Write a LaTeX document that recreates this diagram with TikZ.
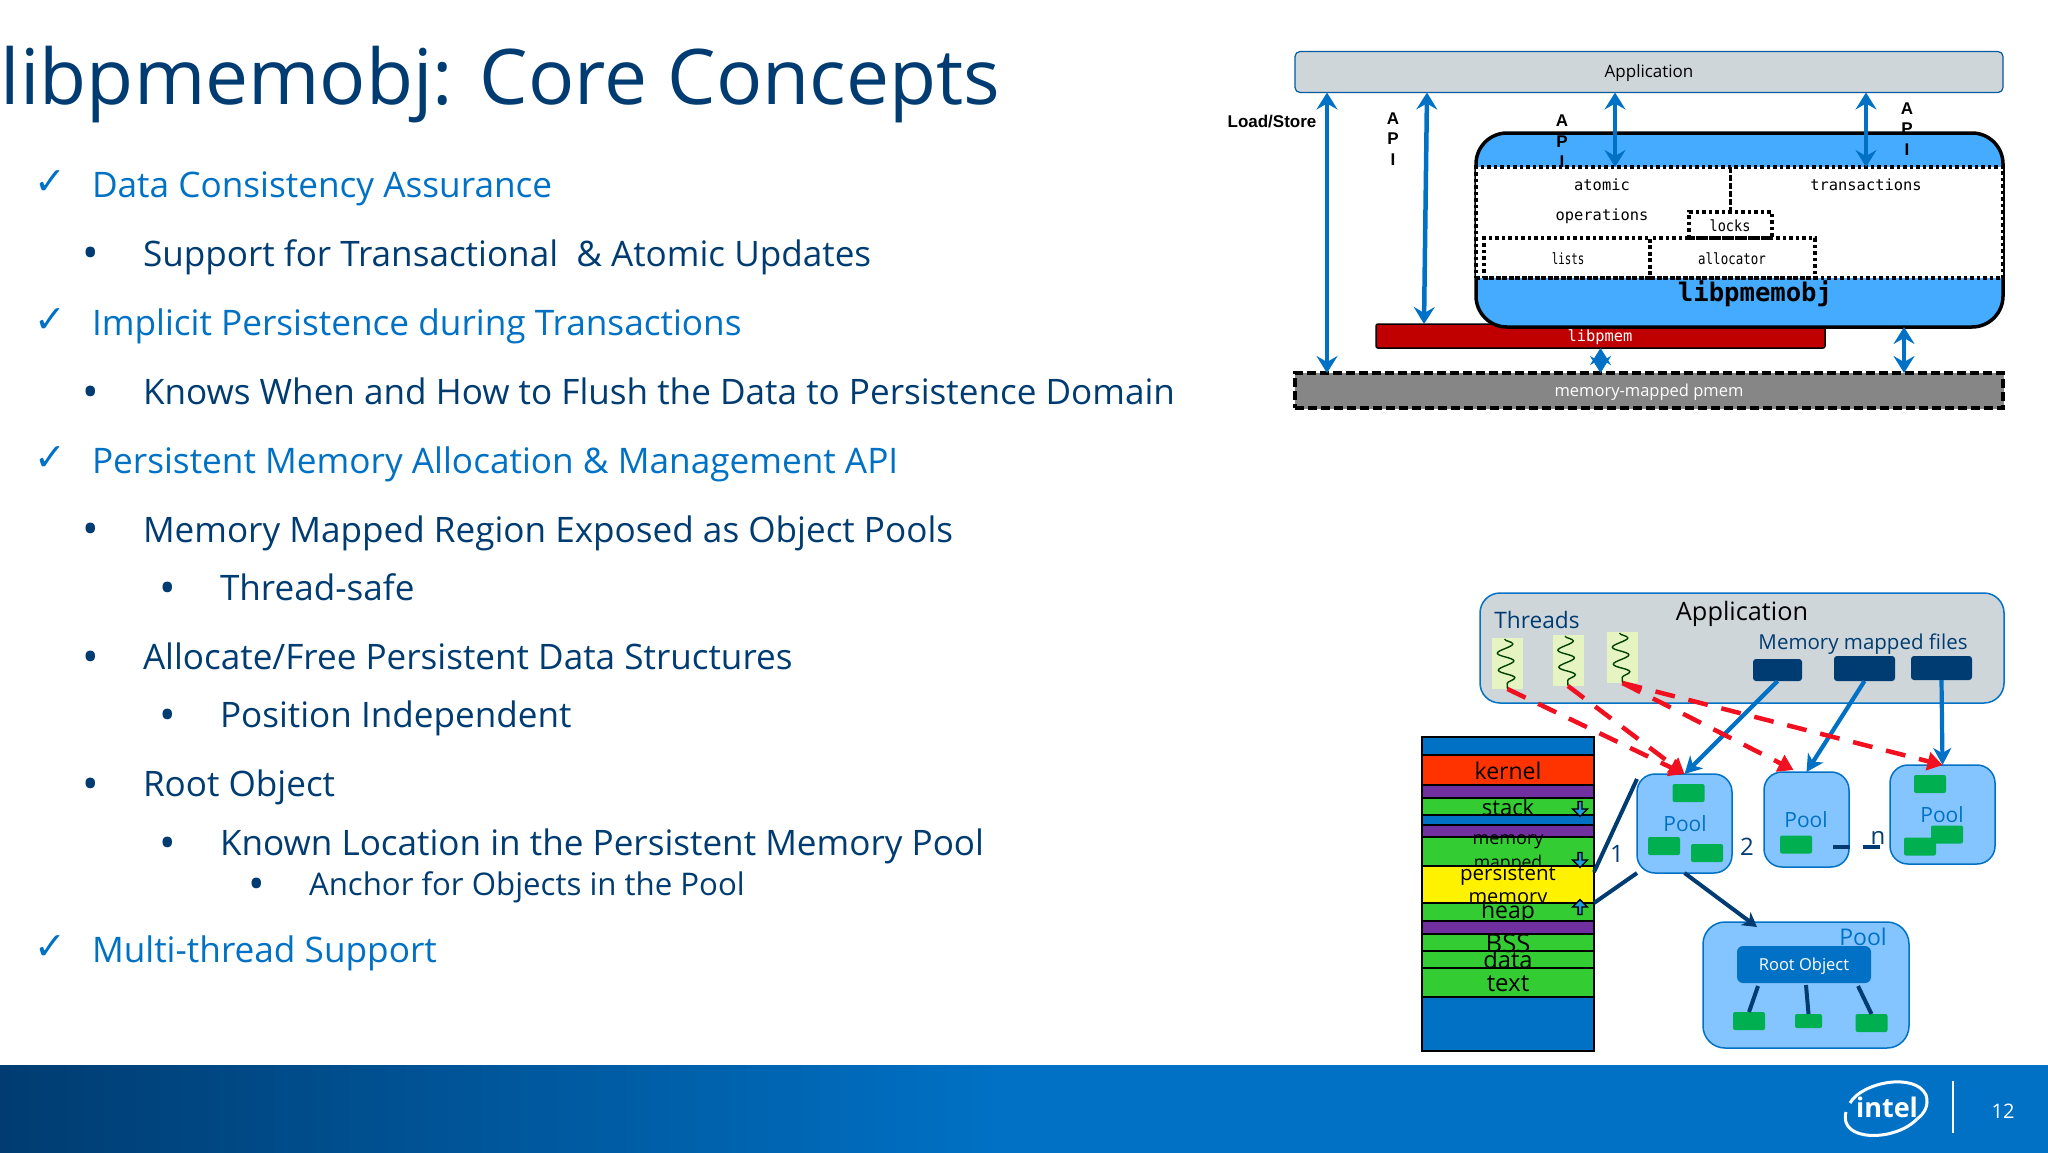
\documentclass[tikz,border=0pt]{standalone}
\usepackage{fontspec}
\setmainfont{Open Sans}
\setmonofont{DejaVu Sans Mono}
\newfontfamily\arialfont{Liberation Sans}
\newfontfamily\checkfont{DejaVu Sans}
\usetikzlibrary{arrows.meta,decorations.pathmorphing,shapes.arrows}
\definecolor{inteldark}{HTML}{003C71}
\definecolor{intelblue}{HTML}{0071C5}
\definecolor{appgray}{HTML}{CFD6DA}
\definecolor{objblue}{HTML}{45ABFF}
\definecolor{poolblue}{HTML}{85C5FF}
\definecolor{poolgreen}{HTML}{00B050}
\definecolor{threadpale}{HTML}{E6F4C2}
\definecolor{libred}{HTML}{C00000}
\definecolor{pmemgray}{HTML}{868686}
\definecolor{rowgreen}{HTML}{33CC33}
\definecolor{rowpurple}{HTML}{7030A0}
\definecolor{rowred}{HTML}{FF3300}
\definecolor{arrowcyan}{HTML}{1E9FE0}
\definecolor{arrowred}{HTML}{F01020}
\begin{document}
\begin{tikzpicture}
  [x=1pt, y=-1pt]
  \tikzstyle{plain} = [inner sep=0pt, outer sep=0pt];
  \tikzstyle{title_text} = [plain, anchor=base west, text=inteldark, font=\fontsize{76.8pt}{84pt}\selectfont];
  \tikzstyle{first_text}  = [plain, anchor=base west, text=intelblue, font=\fontsize{35.2pt}{40pt}\selectfont];
  \tikzstyle{second_text} = [plain, anchor=base west, text=inteldark, font=\fontsize{35.1pt}{40pt}\selectfont];
  \tikzstyle{small_text}  = [plain, anchor=base west, text=inteldark, font=\fontsize{31.2pt}{36pt}\selectfont];
  \tikzstyle{check_mark}  = [plain, text=intelblue, font=\checkfont\fontsize{38pt}{42pt}\selectfont];
  \tikzstyle{dot_mark}    = [plain, text=inteldark, font=\fontsize{44pt}{48pt}\selectfont];
  \tikzstyle{bold_text} = [plain, font=\arialfont\bfseries\fontsize{17pt}{20pt}\selectfont];
  \tikzstyle{mono_text} = [plain, font=\ttfamily\fontsize{15.4pt}{18pt}\selectfont];
  \tikzstyle{api_arrow} = [draw=intelblue, line width=4.5pt, {Stealth[length=17pt, width=21pt, inset=6pt]}-{Stealth[length=17pt, width=21pt, inset=6pt]}];
  \tikzstyle{dotted_box} = [plain, draw=black, line width=3.5pt, dash pattern=on 3.5pt off 3pt];
  \tikzstyle{pool_box} = [plain, draw=intelblue, line width=1.5pt, fill=poolblue, rounded corners=18pt];
  \tikzstyle{pool_text} = [plain, text=intelblue, font=\fontsize{21pt}{24pt}\selectfont];
  \tikzstyle{green_box} = [plain, fill=poolgreen, rounded corners=2pt, minimum width=32pt, minimum height=18pt];
  \tikzstyle{file_box} = [plain, fill=inteldark, rounded corners=3pt];
  \tikzstyle{thread_box} = [plain, fill=threadpale, minimum width=31pt, minimum height=51pt];
  \tikzstyle{squiggle} = [draw=black!75!green, line width=1.4pt, decorate, decoration={snake, amplitude=8pt, segment length=17pt}];
  \tikzstyle{red_arrow} = [draw=arrowred, line width=4.5pt, dash pattern=on 20pt off 14pt, -{Triangle[length=15pt, width=18pt]}];
  \tikzstyle{file_arrow} = [draw=intelblue, line width=4.2pt, -{Stealth[length=17pt, width=18pt, inset=5pt]}];
  \tikzstyle{dark_line} = [draw=inteldark, line width=4pt];
  \tikzstyle{row_box} = [plain, draw=black, line width=2pt, minimum width=172pt];
  \tikzstyle{blue_row} = [row_box, fill=intelblue];
  \tikzstyle{purple_row} = [row_box, fill=rowpurple];
  \tikzstyle{green_row} = [row_box, fill=rowgreen];
  \tikzstyle{row_text} = [plain, align=center, font=\fontsize{23pt}{26pt}\selectfont];
  \tikzstyle{mini_arrow} = [plain, single arrow, draw=black, fill=arrowcyan, line width=1.4pt, minimum height=15pt, minimum width=15pt, single arrow head extend=2pt, shape border rotate=270];

  \useasboundingbox (0, 0) rectangle (2048, 1152);

  % footer
  \fill[intelblue] (1000, 1065) rectangle (2050, 1155);
  \shade[left color=inteldark, right color=intelblue] (0, 1065) rectangle (1000, 1155);
  \draw[white, line width=3pt] (1850, 1103) .. controls (1862, 1082) and (1915, 1072) .. (1926, 1095) .. controls (1929, 1105) and (1925, 1113) .. (1917, 1119);
  \draw[white, line width=3pt] (1917, 1119) .. controls (1895, 1142) and (1838, 1142) .. (1846, 1112);
  \node[plain, text=white, font=\bfseries\fontsize{27pt}{30pt}\selectfont] (intel_logo) at (1887, 1107) {intel};
  \draw[white, line width=1.2pt] (1953, 1081) -- (1953, 1133);
  \node[plain, text=white, font=\fontsize{20pt}{24pt}\selectfont] (page_number) at (2003, 1111) {12};

  % left text
  \node[title_text] (title) at (1, 104) {libpmemobj: Core Concepts};

  \node[check_mark] (check_a) at (50, 183) {✓};
  \node[first_text] (line_a) at (92, 197) {Data Consistency Assurance};
  \node[dot_mark] (dot_b) at (91, 258) {•};
  \node[second_text] (line_b) at (143, 266) {Support for Transactional~ \& Atomic Updates};
  \node[check_mark] (check_c) at (50, 321) {✓};
  \node[first_text] (line_c) at (92, 335) {Implicit Persistence during Transactions};
  \node[dot_mark] (dot_d) at (91, 397) {•};
  \node[second_text] (line_d) at (143, 404) {Knows When and How to Flush the Data to Persistence Domain};
  \node[check_mark] (check_e) at (50, 459) {✓};
  \node[first_text] (line_e) at (92, 473) {Persistent Memory Allocation \& Management API};
  \node[dot_mark] (dot_f) at (91, 534) {•};
  \node[second_text] (line_f) at (143, 542) {Memory Mapped Region Exposed as Object Pools};
  \node[dot_mark] (dot_g) at (168, 593) {•};
  \node[second_text] (line_g) at (220, 600) {Thread-safe};
  \node[dot_mark] (dot_h) at (91, 662) {•};
  \node[second_text] (line_h) at (143, 669) {Allocate/Free Persistent Data Structures};
  \node[dot_mark] (dot_i) at (168, 720) {•};
  \node[second_text] (line_i) at (220, 727) {Position Independent};
  \node[dot_mark] (dot_j) at (91, 789) {•};
  \node[second_text] (line_j) at (143, 796) {Root Object};
  \node[dot_mark] (dot_k) at (168, 848) {•};
  \node[second_text] (line_k) at (220, 855) {Known Location in the Persistent Memory Pool};
  \node[dot_mark] (dot_l) at (257, 889) {•};
  \node[small_text] (line_l) at (309, 895) {Anchor for Objects in the Pool};
  \node[check_mark] (check_m) at (50, 948) {✓};
  \node[first_text] (line_m) at (92, 962) {Multi-thread Support};

  % upper diagram
  \node[plain, draw=intelblue!80!black, line width=1.2pt, fill=appgray, rounded corners=5pt, minimum width=708pt, minimum height=41pt] (app_box) at (1649, 72) {};
  \node[plain, font=\fontsize{17pt}{20pt}\selectfont] (app_label) at (1649, 73) {Application};

  \node[plain, draw=black, line width=1.5pt, fill=libred, rounded corners=2pt, minimum width=449pt, minimum height=24pt] (libpmem) at (1600.5, 336) {};
  \node[plain, draw=black, line width=3.5pt, fill=objblue, rounded corners=31pt, minimum width=527pt, minimum height=194pt] (obj_box) at (1739.5, 230) {};
  \node[dotted_box, fill=white, minimum width=527pt, minimum height=111pt] (white_area) at (1739.5, 222.5) {};
  \node[mono_text, text=white] (libpmem_label) at (1600, 337) {libpmem};
  \node[plain, font=\ttfamily\bfseries\fontsize{25.6pt}{28pt}\selectfont] (obj_label) at (1755, 294) {libpmemobj};

  \node[mono_text] (atomic_label) at (1602, 185) {atomic};
  \node[mono_text] (operations_label) at (1602, 216) {operations};
  \node[mono_text] (transactions_label) at (1866, 185) {transactions};
  \node[dotted_box, fill=white, minimum width=83pt, minimum height=26pt] (locks_box) at (1730.5, 225) {};
  \node[mono_text, xscale=0.88] at (1730, 226) (locks_label) {locks};
  \node[dotted_box, minimum width=166pt, minimum height=40pt] (lists_box) at (1567, 258) {};
  \node[dotted_box, minimum width=165pt, minimum height=40pt] (allocator_box) at (1732.5, 258) {};
  \node[mono_text, xscale=0.7] (lists_label) at (1568, 259) {lists};
  \node[mono_text, xscale=0.81] (allocator_label) at (1732, 259) {allocator};
  \draw[black, line width=3.5pt, dash pattern=on 6pt off 2pt] (white_area.north -| locks_box) -- (locks_box.north);

  \node[plain, draw=pmemgray, fill=pmemgray, minimum width=708pt, minimum height=35pt] (pmem_fill) at (1649, 390.5) {};
  \node[plain, draw=black, line width=3.5pt, dash pattern=on 9pt off 4pt, minimum width=708pt, minimum height=35pt] (pmem_box) at (1649, 390.5) {};
  \node[plain, text=white, font=\fontsize{16.5pt}{20pt}\selectfont] (pmem_label) at (1649, 392) {memory-mapped pmem};

  \node[bold_text] (load_label) at (1272, 122) {Load/Store};
  \node[bold_text] (api_a1) at (1393, 119) {A};
  \node[bold_text] (api_a2) at (1393, 139) {P};
  \node[bold_text] (api_a3) at (1393, 160) {I};
  \node[bold_text] (api_b1) at (1562, 121) {A};
  \node[bold_text] (api_b2) at (1562, 142) {P};
  \node[bold_text] (api_b3) at (1562, 162) {I};
  \node[bold_text] (api_c1) at (1907, 109) {A};
  \node[bold_text] (api_c2) at (1907, 129) {P};
  \node[bold_text] (api_c3) at (1907, 150) {I};

  \draw[api_arrow] ([xshift=-322pt]app_box.south) -- ([xshift=-322pt]pmem_box.north);
  \draw[api_arrow] ([xshift=-222pt]app_box.south) -- ([xshift=-176.5pt]libpmem.north);
  \draw[api_arrow] ([xshift=-34pt]app_box.south) -- ([xshift=-124.5pt]white_area.north);
  \draw[api_arrow] ([xshift=217pt]app_box.south) -- ([xshift=126.5pt]white_area.north);
  \draw[api_arrow] (libpmem.south) -- (libpmem.south |- pmem_box.north);
  \draw[api_arrow] ([xshift=164.5pt]obj_box.south) -- ([xshift=255pt]pmem_box.north);

  % stack
  \node[blue_row, minimum height=18pt] (row_top) at (1508, 746) {};
  \node[row_box, fill=rowred, minimum height=30pt] (row_kernel) at (1508, 770) {};
  \node[row_text] (kernel_label) at (1508, 771) {kernel};
  \node[purple_row, minimum height=13pt] (row_p1) at (1508, 791.5) {};
  \node[green_row, minimum height=17pt] (row_stack) at (1508, 806.5) {};
  \node[row_text, font=\fontsize{22pt}{26pt}\selectfont] (stack_label) at (1508, 807) {stack};
  \node[blue_row, minimum height=10pt] (row_gap) at (1508, 820) {};
  \node[purple_row, minimum height=12pt] (row_p2) at (1508, 831) {};
  \node[green_row, minimum height=29pt] (row_mapped) at (1508, 851.5) {};
  \node[row_text, font=\fontsize{18pt}{22pt}\selectfont] (memory_label) at (1508, 842) {memory};
  \node[row_text, font=\fontsize{17.6pt}{22pt}\selectfont] (mapped_label) at (1508, 864) {mapped};
  \node[row_box, fill=yellow, minimum height=37pt] (row_persistent) at (1508, 884.5) {};
  \node[row_text, font=\fontsize{20.5pt}{24pt}\selectfont] (persistent_label) at (1508, 875) {persistent};
  \node[row_text, font=\fontsize{20pt}{24pt}\selectfont] (persistent_memory_label) at (1508, 900) {memory};
  \node[green_row, minimum height=18pt] (row_heap) at (1508, 912) {};
  \node[row_text] (heap_label) at (1508, 913) {heap};
  \node[purple_row, minimum height=13pt] (row_p3) at (1508, 927.5) {};
  \node[green_row, minimum height=17pt] (row_bss) at (1508, 942.5) {};
  \node[green_row, minimum height=17pt] (row_data) at (1508, 959.5) {};
  \node[green_row, minimum height=29pt] (row_text) at (1508, 982.5) {};
  \node[blue_row, minimum height=54pt] (row_bottom) at (1508, 1024) {};
  \node[row_text, font=\fontsize{25.6pt}{28pt}\selectfont] (bss_label) at (1508, 943) {BSS};
  \node[row_text, font=\fontsize{23.7pt}{28pt}\selectfont] (data_label) at (1508, 960) {data};
  \node[row_text, font=\fontsize{24pt}{28pt}\selectfont] (text_label) at (1508, 984) {text};
  \node[mini_arrow] (mini_stack) at (1580, 808) {};
  \node[mini_arrow] (mini_mapped) at (1580, 859) {};
  \node[mini_arrow, shape border rotate=90] (mini_heap) at (1580, 908) {};

  % lower diagram
  \node[plain, draw=intelblue, line width=1.5pt, fill=appgray, rounded corners=20pt, minimum width=524pt, minimum height=110pt] (proc_box) at (1742, 648) {};
  \node[plain, text=inteldark, font=\fontsize{22.7pt}{26pt}\selectfont] (threads_label) at (1537, 620) {Threads};
  \node[plain, font=\fontsize{25.3pt}{28pt}\selectfont] (proc_label) at (1742, 614) {Application};
  \node[plain, text=inteldark, font=\fontsize{20.5pt}{24pt}\selectfont] (files_label) at (1863, 644) {Memory mapped files};

  \node[thread_box] (thread_one) at (1507.5, 663.5) {};
  \node[thread_box] (thread_two) at (1568, 660.5) {};
  \node[thread_box] (thread_three) at (1622.5, 657.5) {};
  \draw[squiggle] ([xshift=-3pt, yshift=-1pt]thread_one.north) -- (thread_one.south);
  \draw[squiggle] ([xshift=-3pt, yshift=-1pt]thread_two.north) -- (thread_two.south);
  \draw[squiggle] ([xshift=-3pt, yshift=-1pt]thread_three.north) -- (thread_three.south);

  \node[file_box, minimum width=49pt, minimum height=22pt] (file_one) at (1777.5, 670) {};
  \node[file_box, minimum width=61pt, minimum height=25pt] (file_two) at (1864.5, 668.5) {};
  \node[file_box, minimum width=61pt, minimum height=24pt] (file_three) at (1941.5, 668) {};

  \node[pool_box, minimum width=95pt, minimum height=99pt] (pool_one) at (1684.5, 823.5) {};
  \node[pool_box, minimum width=85pt, minimum height=95pt] (pool_two) at (1806.5, 819.5) {};
  \node[pool_box, minimum width=105pt, minimum height=99pt] (pool_three) at (1942.5, 814.5) {};
  \node[pool_box, rounded corners=22pt, minimum width=206pt, minimum height=126pt] (root_pool) at (1806, 985) {};

  \node[pool_text] (pool_one_label) at (1685, 824) {Pool};
  \node[pool_text] (pool_two_label) at (1806, 820) {Pool};
  \node[pool_text] (pool_three_label) at (1942, 815) {Pool};
  \node[pool_text, font=\fontsize{23pt}{26pt}\selectfont] (root_pool_label) at (1863, 937) {Pool};

  \node[green_box] (green_a) at (1688.5, 793) {};
  \node[green_box] (green_b) at (1664, 846) {};
  \node[green_box] (green_c) at (1707, 853) {};
  \node[green_box] (green_d) at (1796, 844.5) {};
  \node[green_box] (green_e) at (1930, 784) {};
  \node[green_box] (green_f) at (1947, 834.5) {};
  \node[green_box] (green_g) at (1920, 846.5) {};

  \node[plain, fill=intelblue, rounded corners=6pt, minimum width=134pt, minimum height=37pt] (root_object) at (1804, 964.5) {};
  \node[plain, text=white, font=\fontsize{16.5pt}{20pt}\selectfont] (root_object_label) at (1804, 966) {Root Object};
  \node[green_box] (leaf_a) at (1749, 1021) {};
  \node[green_box, minimum width=27pt, minimum height=14pt] (leaf_b) at (1808.5, 1021) {};
  \node[green_box] (leaf_c) at (1871.5, 1023) {};

  \draw[dark_line] ([xshift=-46pt, yshift=-3pt]root_object.south) -- (leaf_a.north);
  \draw[dark_line] ([xshift=2pt, yshift=-2pt]root_object.south) -- (leaf_b.north);
  \draw[dark_line] ([xshift=54pt, yshift=-3pt]root_object.south) -- (leaf_c.north);

  \draw[dark_line] ([yshift=-5pt]pool_one.north west) -- ([yshift=-6pt]row_persistent.north east);
  \draw[dark_line] (pool_one.south west) -- (row_persistent.south east);
  \draw[dark_line, -{Stealth[length=14pt, width=16pt, inset=4pt]}] (pool_one.south) -- ([xshift=-49pt, yshift=-5pt]root_pool.north);

  \node[plain, text=inteldark, font=\fontsize{24pt}{28pt}\selectfont] (num_one) at (1617, 854) {1};
  \node[plain, text=inteldark, font=\fontsize{24pt}{28pt}\selectfont] (num_two) at (1747, 847) {2};
  \node[plain, text=inteldark, font=\fontsize{24pt}{28pt}\selectfont] (num_n) at (1878, 838) {n};
  \coordinate (dash_a) at (1833, 847);
  \coordinate (dash_b) at (1850, 847);
  \coordinate (dash_c) at (1863, 847);
  \coordinate (dash_d) at (1880, 847);
  \draw[dark_line] (dash_a) -- (dash_b);
  \draw[dark_line] (dash_c) -- (dash_d);

  \draw[file_arrow] (file_one.south) -- (pool_one.north);
  \draw[file_arrow] (file_two.south) -- (pool_two.north);
  \draw[file_arrow] (file_three.south) -- (pool_three.north);

  \draw[red_arrow] (thread_one.south) -- (pool_one.north);
  \draw[red_arrow] (thread_two.south) -- (pool_one.north);
  \draw[red_arrow] (thread_three.south) -- ([xshift=-13pt, yshift=2pt]pool_two.north);
  \draw[red_arrow] (thread_three.south) -- (pool_three.north);

\end{tikzpicture}
\end{document}
